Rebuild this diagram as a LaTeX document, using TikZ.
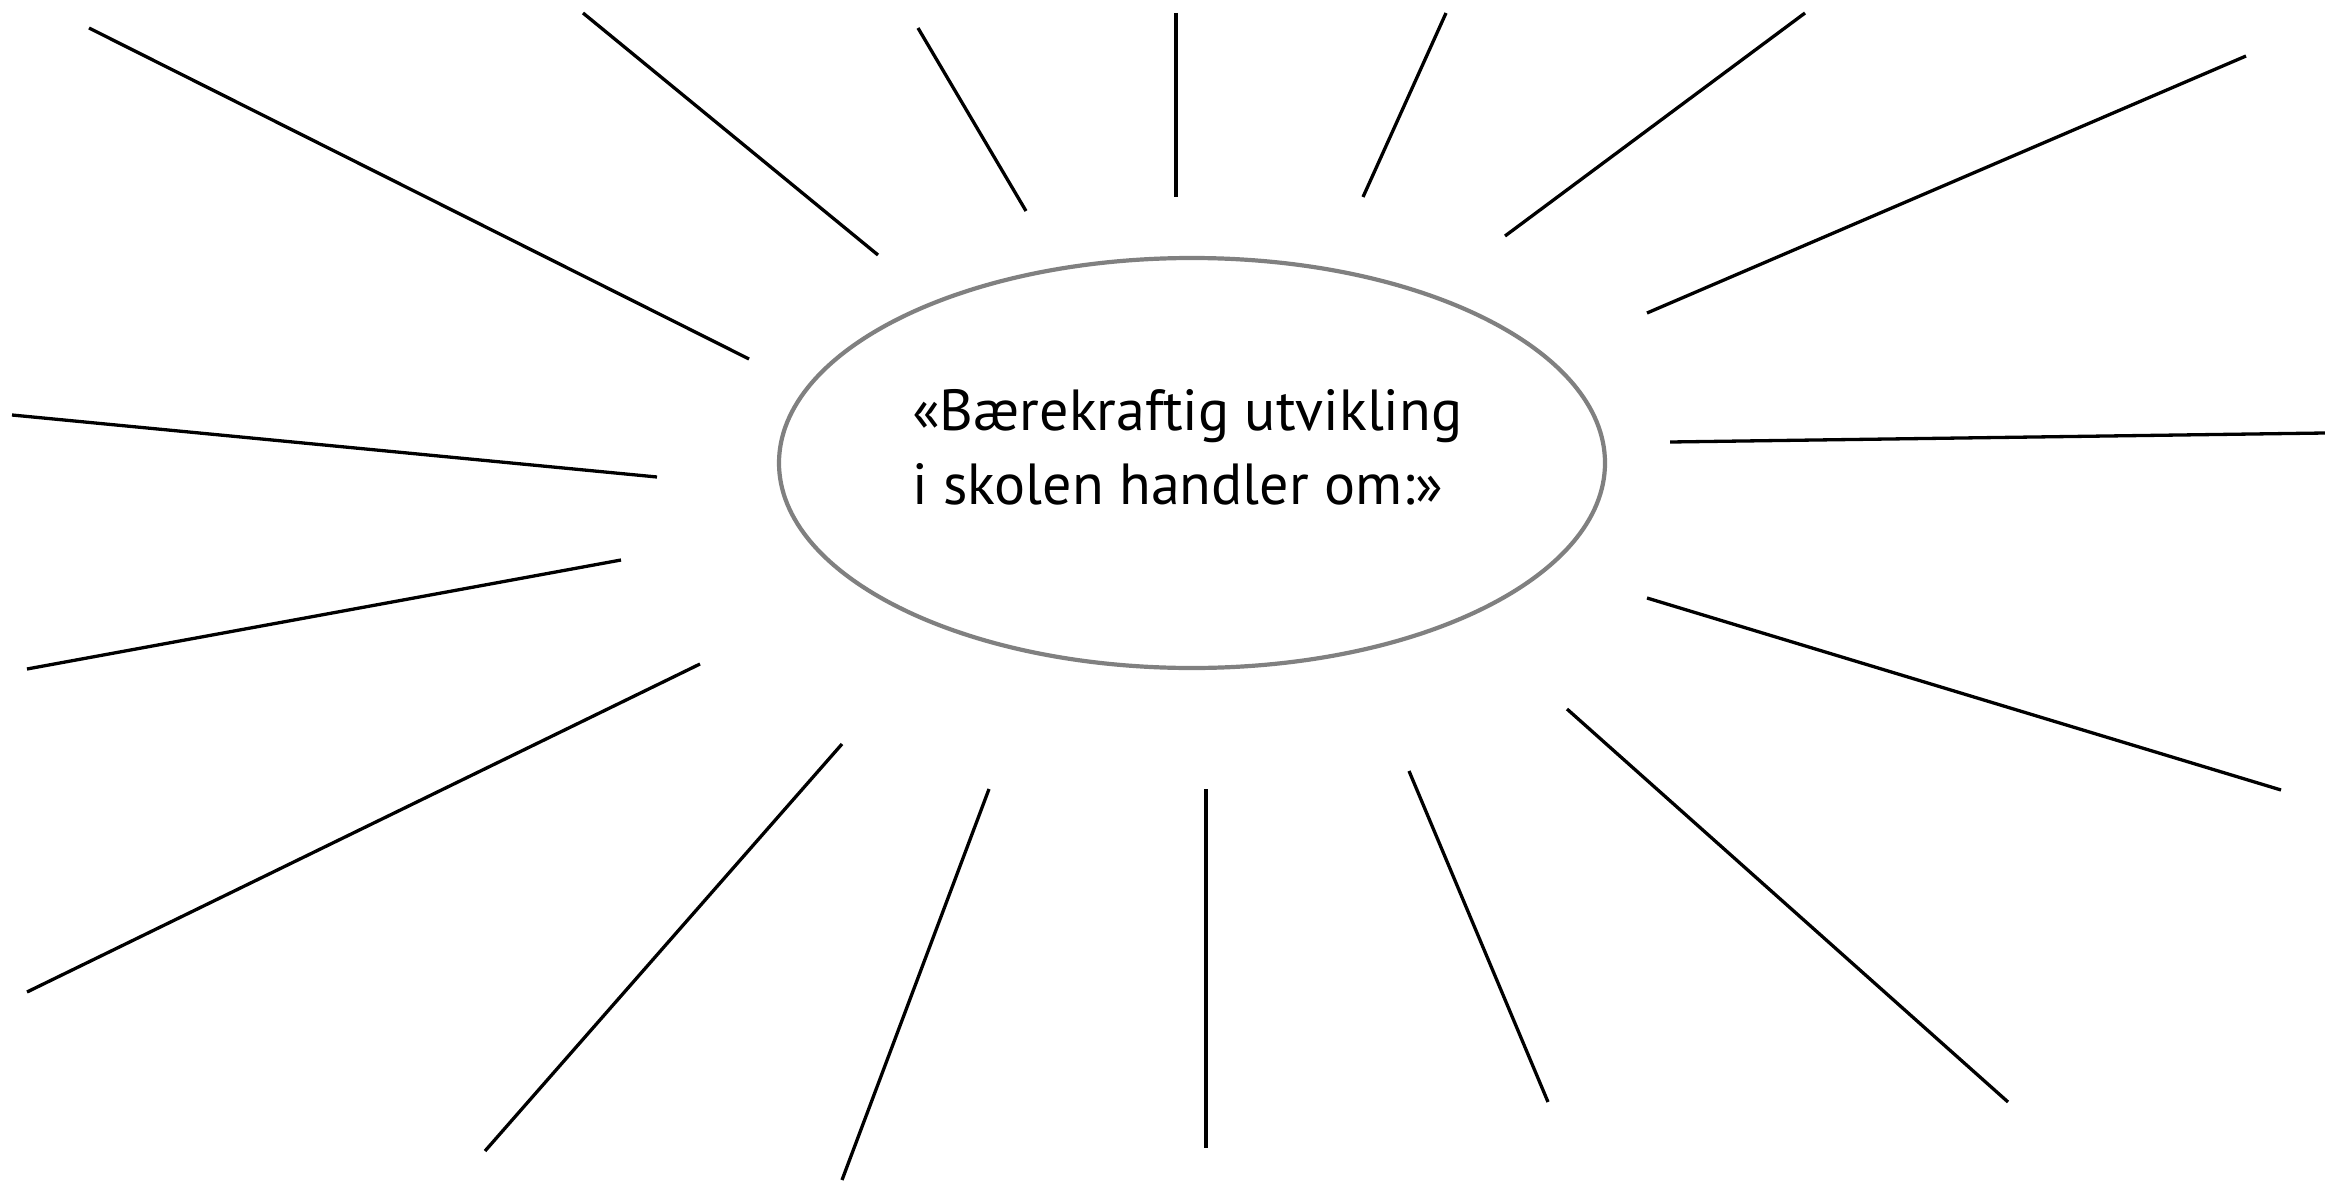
\documentclass[tikz,border=0pt]{standalone}
\usepackage{fontspec}
\setmainfont{PT Sans}
\usetikzlibrary{shapes.geometric}
\begin{document}
\begin{tikzpicture}[x=1pt,y=-1pt,
  ray/.style={line width=3.3pt,black},
  sun/.style={ellipse,draw=black!50,line width=4.2pt,minimum width=826pt,minimum height=410pt,inner sep=0pt},
  lbl/.style={inner sep=0pt,anchor=base west,font=\fontsize{58}{74}\selectfont,align=left}]
\useasboundingbox[fill=white] (0,0) rectangle (2325,1180);
\node[sun] (e) at (1192,463) {};
\node[lbl] (t) at (912,504) {«Bærekraftig utvikling\\i skolen handler om:»};
\foreach \n/\ax/\ay/\bx/\by in {
  1/89/28/749/359, 2/583/13/878/255, 3/918/28/1026/211, 4/1176/13/1176/197,
  5/1446/13/1363/197, 6/1805/13/1505/236, 7/2246/56/1647/313, 8/1670/442/2325/433,
  9/1647/598/2281/790, 10/1567/709/2008/1102, 11/1409/771/1548/1102, 12/1206/789/1206/1148,
  13/989/789/842/1180, 14/842/744/485/1151, 15/700/664/27/992, 16/621/560/27/669,
  17/657/477/12/415}{
  \coordinate (a\n) at (\ax,\ay);
  \coordinate (b\n) at (\bx,\by);
  \draw[ray] (a\n) -- (b\n);
}
\end{tikzpicture}
\end{document}
